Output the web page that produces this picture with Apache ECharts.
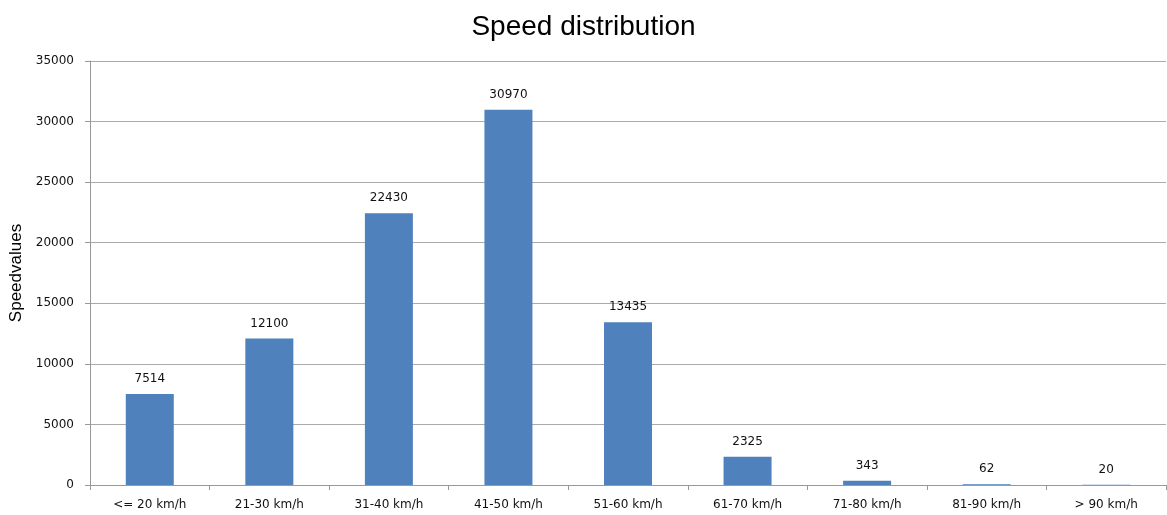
<!DOCTYPE html>
<html>
<head>
<meta charset="utf-8">
<script src="https://cdn.jsdelivr.net/npm/echarts@6/dist/echarts.min.js"></script>
<style>html,body{margin:0;padding:0;background:#fff;}#c{width:1167px;height:515px;}</style>
</head>
<body>
<div id="c"></div>
<script>
const categories = ['<= 20 km/h','21-30 km/h','31-40 km/h','41-50 km/h','51-60 km/h','61-70 km/h','71-80 km/h','81-90 km/h','> 90 km/h'];
const values = [7514, 12100, 22430, 30970, 13435, 2325, 343, 62, 20];
const chart = echarts.init(document.getElementById('c'));
chart.setOption({
  animation: false,
  backgroundColor: '#fff',
  title: {
    text: 'Speed distribution', left: 'center', top: 8,
    textStyle: { fontFamily: 'Liberation Sans', fontSize: 28, fontWeight: 'normal', color: '#000' }
  },
  grid: { left: 90, right: 1, top: 61, bottom: 30, containLabel: false, outerBoundsMode: 'none' },
  xAxis: {
    type: 'category', data: categories,
    axisLine: { lineStyle: { color: '#999', width: 1 } },
    axisTick: { show: true, alignWithLabel: false, length: 5, lineStyle: { color: '#999' } },
    axisLabel: { fontFamily: 'DejaVu Sans', fontSize: 12, color: '#111', margin: 14 }
  },
  yAxis: {
    type: 'value', min: 0, max: 35000, interval: 5000,
    name: 'Speedvalues', nameLocation: 'middle', nameGap: 62, nameRotate: 90,
    nameTextStyle: { fontFamily: 'Liberation Sans', fontSize: 17, color: '#000' },
    axisLine: { show: true, lineStyle: { color: '#999' } },
    axisTick: { show: true, length: 5, lineStyle: { color: '#999' } },
    axisLabel: { fontFamily: 'DejaVu Sans', fontSize: 12, color: '#111', margin: 16, formatter: v => String(v) },
    splitLine: { lineStyle: { color: '#aaa', width: 1 } }
  },
  series: [{
    type: 'bar', data: values, barWidth: 48,
    itemStyle: { color: '#4F81BD' },
    label: { show: true, position: 'top', distance: 9, fontFamily: 'DejaVu Sans', fontSize: 12, color: '#111' }
  }]
});
</script>
</body>
</html>
